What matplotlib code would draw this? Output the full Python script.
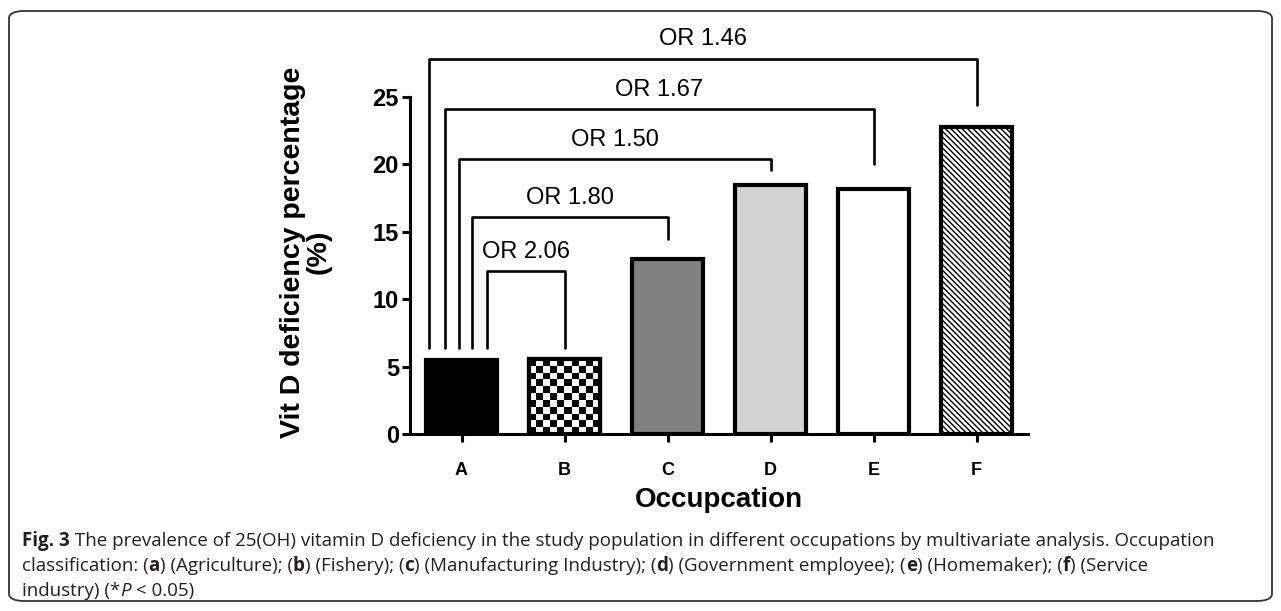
"""
Vitamin D deficiency by occupation, with odds-ratio brackets against group A.
Writes out.png (1281x611).
"""

import matplotlib
matplotlib.use("Agg")
import matplotlib.pyplot as plt
import numpy as np
from matplotlib.patches import FancyBboxPatch


categories = ["A", "B", "C", "D", "E", "F"]
deficiency_pct = [5.5, 5.55, 13.0, 18.5, 18.2, 22.8]
bar_colors = ["black", "white", "#808080", "#d3d3d3", "white", "white"]

# odds ratio brackets: every comparison is against A
or_labels = ["OR 2.06", "OR 1.80", "OR 1.50", "OR 1.67", "OR 1.46"]
or_target = [1, 2, 3, 4, 5]

# bracket layout (data units)
BRACKET_TOP = [12.1, 16.1, 20.4, 24.1, 27.85]
LEFT_LEG_X = [0.245, 0.10, -0.02, -0.16, -0.32]
LEFT_LEG_BOTTOM = 6.4
RIGHT_LEG_BOTTOM = [6.4, 14.5, 19.6, 20.0, 24.4]

FONT = ["Liberation Sans", "DejaVu Sans"]
CAPTION_FONT = ["Open Sans", "DejaVu Sans"]

plt.rcParams["font.family"] = FONT
plt.rcParams["hatch.linewidth"] = 1.0

W, H = 1281, 611


def draw_rich(fig, x_px, y_px, segments, size):
    """Draw a line of mixed-style text, piece by piece, from pixel position."""
    renderer = fig.canvas.get_renderer()
    x = x_px
    for text, weight, style in segments:
        t = fig.text(x / W, 1 - y_px / H, text, fontsize=size, fontweight=weight,
                     fontstyle=style, family=CAPTION_FONT, va="center", ha="left",
                     color="#231f20")
        bb = t.get_window_extent(renderer=renderer)
        x += bb.width


def main() -> None:
    fig = plt.figure(figsize=(W / 100, H / 100), dpi=100)

    # rounded frame around the whole figure
    frame = FancyBboxPatch((9 / W, 10 / H), (1272 - 9) / W, (600 - 10) / H,
                           boxstyle="round,pad=0,rounding_size=0.012",
                           transform=fig.transFigure, fill=False,
                           edgecolor="#333333", linewidth=1.3)
    fig.patches.append(frame)

    ax = fig.add_axes([410 / W, 177 / H, 618 / W, 337 / H])
    x = np.arange(len(categories))

    bars = ax.bar(x, deficiency_pct, width=0.68, color=bar_colors,
                  edgecolor="black", linewidth=3.0, zorder=3)
    bars[5].set_hatch("\\\\\\\\\\\\")

    # checkerboard fill for B, clipped to the bar
    b = bars[1]
    checker = (np.indices((11, 10)).sum(axis=0) % 2).astype(float)
    img = ax.imshow(checker, cmap="gray", interpolation="nearest", aspect="auto",
                    extent=[b.get_x(), b.get_x() + b.get_width(), 0, b.get_height()],
                    zorder=3.5)
    img.set_clip_path(b)
    ax.bar(x[1], deficiency_pct[1], width=0.68, fill=False,
           edgecolor="black", linewidth=3.0, zorder=4)

    # odds ratio brackets
    for label, tgt, top, lx, rb in zip(or_labels, or_target, BRACKET_TOP,
                                       LEFT_LEG_X, RIGHT_LEG_BOTTOM):
        ax.plot([lx, lx, x[tgt], x[tgt]], [LEFT_LEG_BOTTOM, top, top, rb],
                color="black", lw=1.9, clip_on=False, solid_joinstyle="round",
                solid_capstyle="round", zorder=5)
        ax.text((lx + x[tgt]) / 2, top + 0.6, label, ha="center", va="bottom",
                fontsize=17, clip_on=False)

    ax.set_xlim(-0.5, 5.5)
    ax.set_ylim(0, 25)
    ax.set_yticks([0, 5, 10, 15, 20, 25])
    ax.set_xticks(x)
    ax.set_xticklabels(categories, fontsize=13, fontweight="bold")
    for lab in ax.get_yticklabels():
        lab.set_fontsize(17)
        lab.set_fontweight("bold")
    ax.tick_params(axis="both", width=2.2, length=6, direction="out")
    ax.tick_params(axis="x", pad=14)
    ax.tick_params(axis="y", pad=2)

    for side in ("top", "right"):
        ax.spines[side].set_visible(False)
    for side in ("left", "bottom"):
        ax.spines[side].set_linewidth(2.2)

    ax.set_xlabel("Occupcation", fontsize=20, fontweight="bold", labelpad=6)
    ax.set_ylabel("Vit D deficiency percentage\n(%)", fontsize=20.5,
                  fontweight="bold", linespacing=1.0)
    ax.yaxis.set_label_coords(-0.127, 0.54)

    # caption
    cap = 13.5
    draw_rich(fig, 22, 541, [
        ("Fig. 3", "bold", "normal"),
        (" The prevalence of 25(OH) vitamin D deficiency in the study population "
         "in different occupations by multivariate analysis. Occupation", "normal", "normal"),
    ], cap)
    draw_rich(fig, 22, 566, [
        ("classification: (", "normal", "normal"), ("a", "bold", "normal"),
        (") (Agriculture); (", "normal", "normal"), ("b", "bold", "normal"),
        (") (Fishery); (", "normal", "normal"), ("c", "bold", "normal"),
        (") (Manufacturing Industry); (", "normal", "normal"), ("d", "bold", "normal"),
        (") (Government employee); (", "normal", "normal"), ("e", "bold", "normal"),
        (") (Homemaker); (", "normal", "normal"), ("f", "bold", "normal"),
        (") (Service", "normal", "normal"),
    ], cap)
    draw_rich(fig, 22, 591, [
        ("industry) (*", "normal", "normal"), ("P", "normal", "italic"),
        (" < 0.05)", "normal", "normal"),
    ], cap)

    fig.savefig("out.png", dpi=100)
    plt.close(fig)


if __name__ == "__main__":
    main()
